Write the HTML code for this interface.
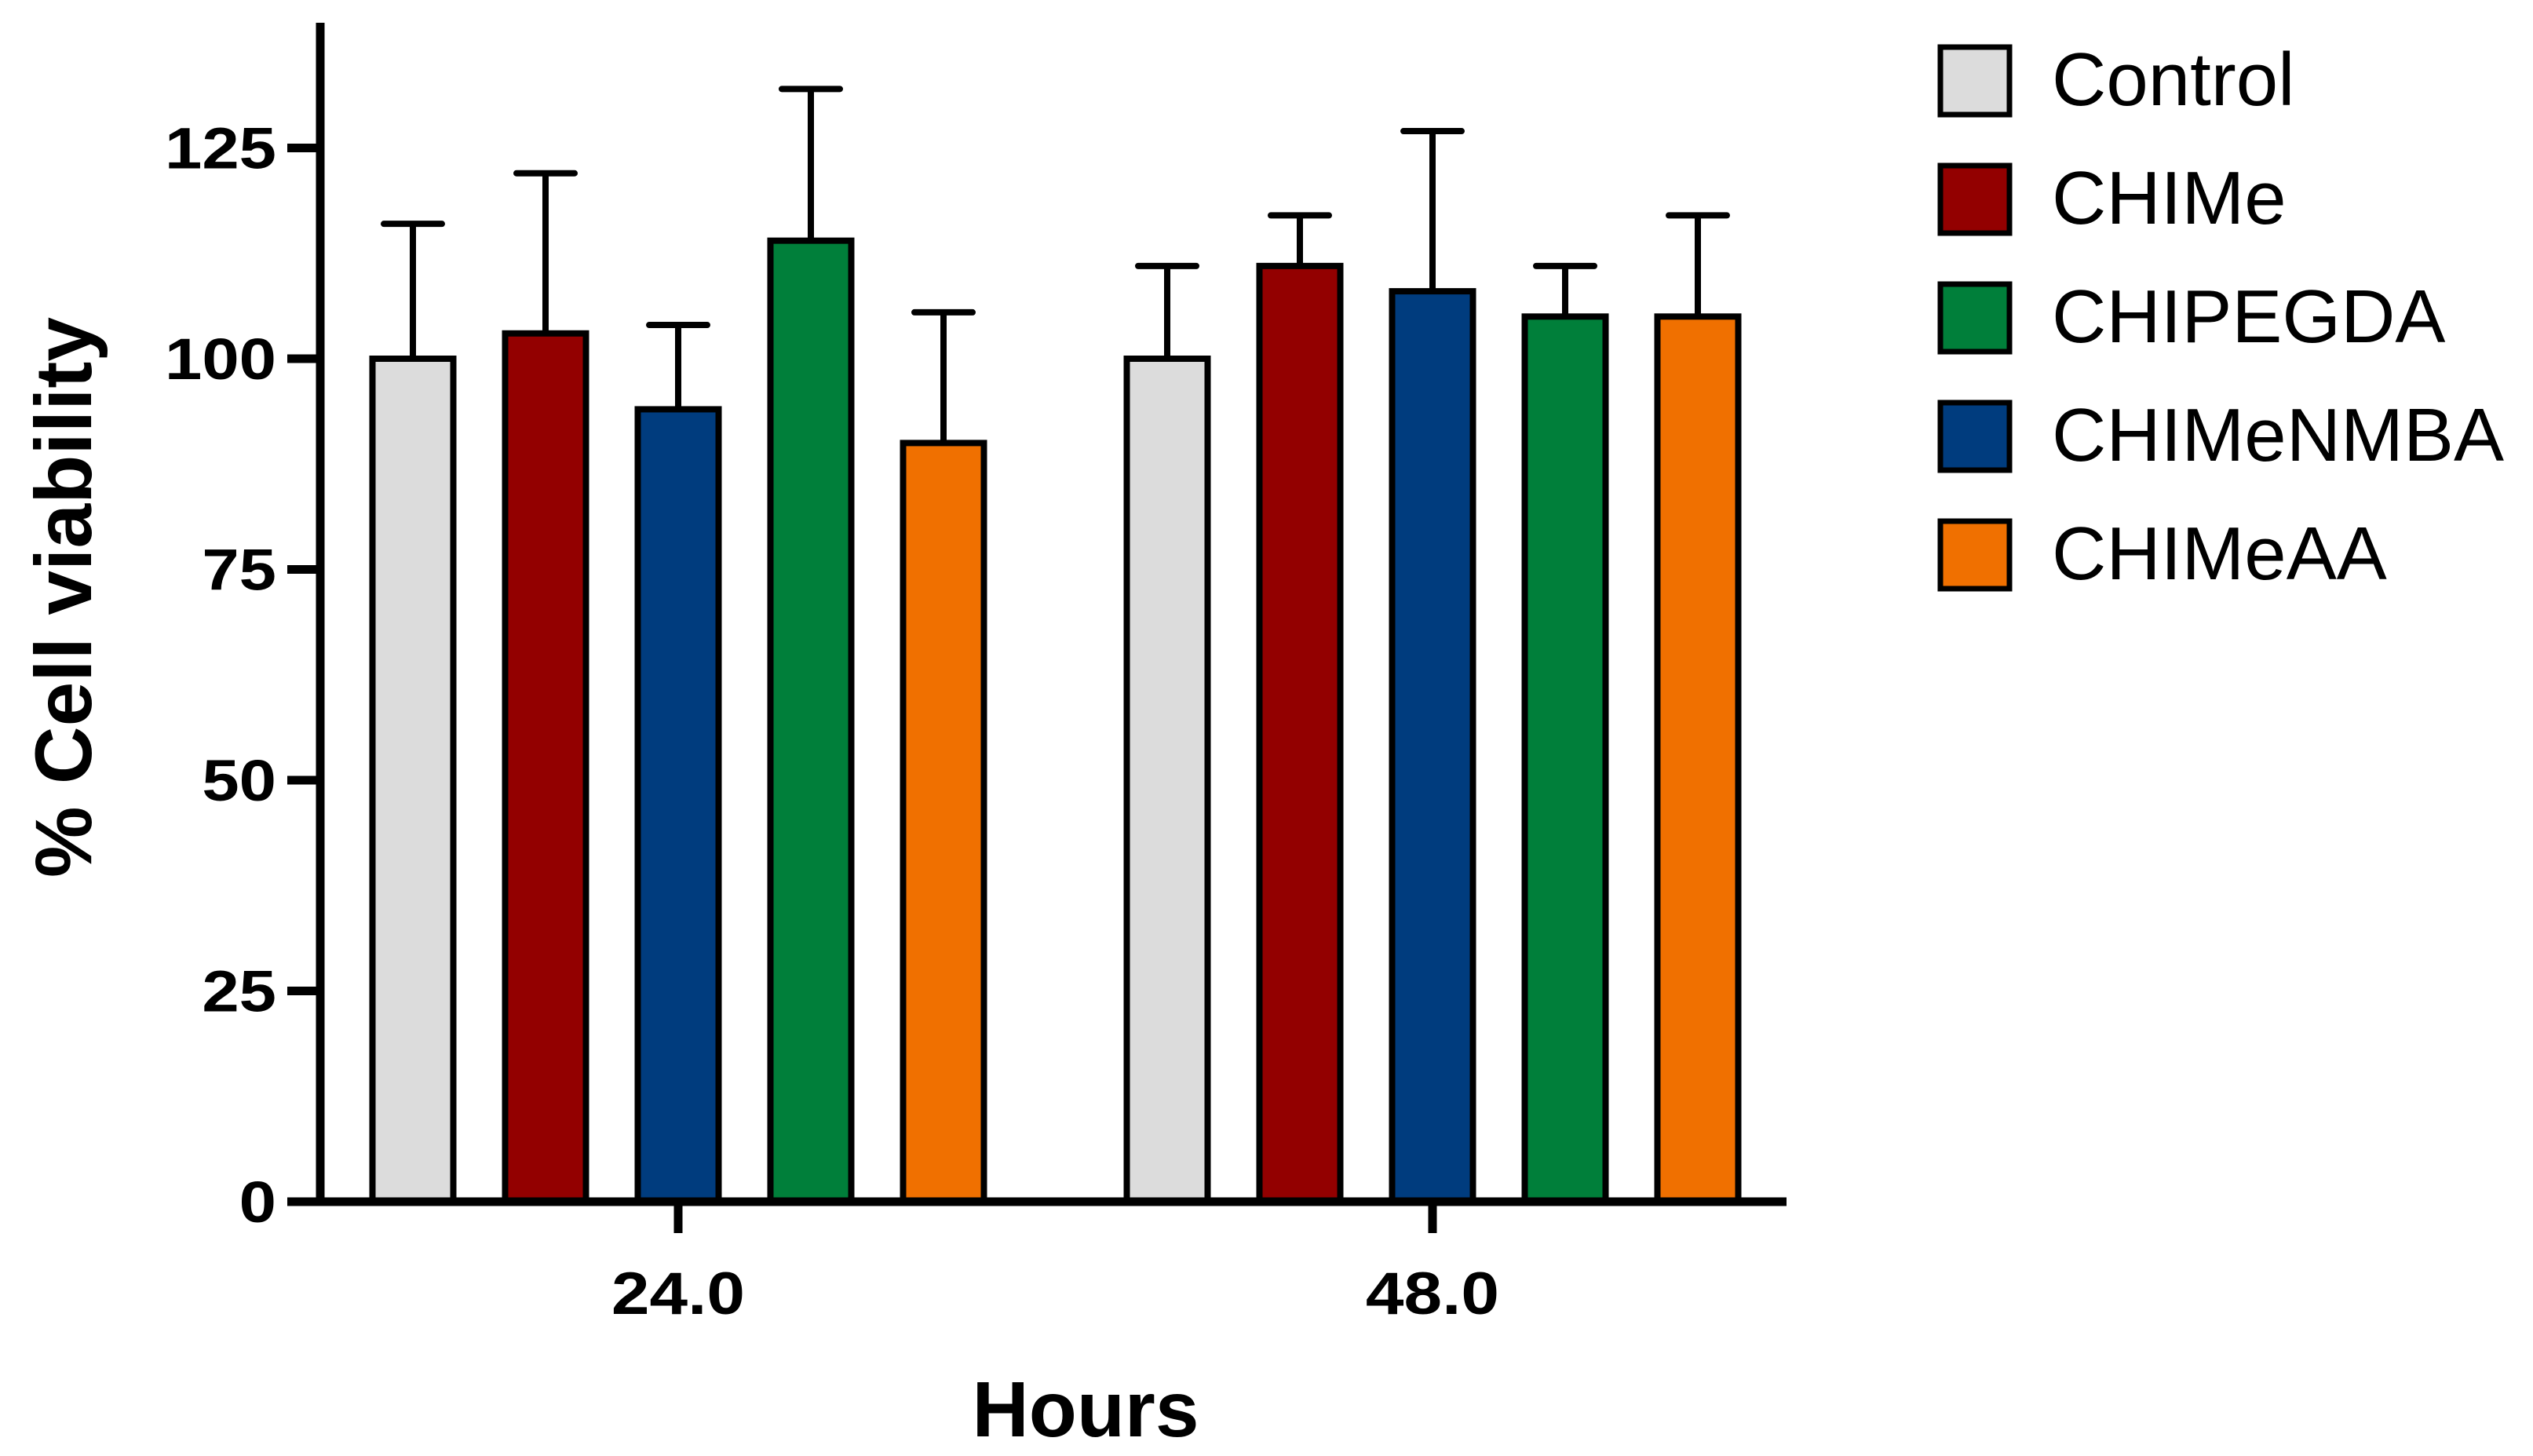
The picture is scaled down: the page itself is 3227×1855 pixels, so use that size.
<!DOCTYPE html>
<html><head><meta charset="utf-8"><style>
html,body{margin:0;padding:0;background:#fff;}
svg{display:block;}
text{font-family:"Liberation Sans",Arial,sans-serif;}
</style></head><body>
<svg id="chart" width="3227" height="1855" viewBox="0 0 3227 1855" xmlns="http://www.w3.org/2000/svg">
<g id="plot"></g>
<text x="0" y="0" transform="translate(116,761) rotate(-90)" text-anchor="middle" font-size="102" font-weight="bold">% Cell viability</text>
<text x="1383" y="1830" text-anchor="middle" font-size="100" font-weight="bold">Hours</text>
<g id="legend"></g>
</svg>
<script>
const categories = ["24.0", "48.0"];
const seriesNames = ["Control", "CHIMe", "CHIMeNMBA", "CHIPEGDA", "CHIMeAA"];
const seriesColors = ["#dcdcdc", "#930000", "#003c7e", "#007f3a", "#f07000"];
const values24 = [100, 103, 94, 114, 90];
const values48 = [100, 111, 108, 105, 105];
const errTop24 = [116, 122, 104, 132, 105.5];
const errTop48 = [111, 117, 127, 111, 117];
const yTicks = [0, 25, 50, 75, 100, 125];
const legendNames = ["Control", "CHIMe", "CHIPEGDA", "CHIMeNMBA", "CHIMeAA"];
const legendColors = ["#dcdcdc", "#930000", "#007f3a", "#003c7e", "#f07000"];

const NS = "http://www.w3.org/2000/svg";
const plot = document.getElementById('plot');
const y0 = 1531, pxPerUnit = 10.74;
function yScale(v){ return y0 - v * pxPerUnit; }
const groupCenters = [864, 1825];
const pitch = 169, barW = 103;
function xScale(gi, si){ return groupCenters[gi] + (si - 2) * pitch; }
function mk(tag, attrs){ const e = document.createElementNS(NS, tag); for (const k in attrs) e.setAttribute(k, attrs[k]); return e; }
function stretch(t, f){ const w = t.getComputedTextLength(); t.setAttribute('textLength', w * f); t.setAttribute('lengthAdjust', 'spacingAndGlyphs'); }

const allVals = [values24, values48];
const allErr = [errTop24, errTop48];
for (let g = 0; g < categories.length; g++) {
  for (let s = 0; s < seriesNames.length; s++) {
    const cx = xScale(g, s), v = allVals[g][s], et = allErr[g][s];
    const eb = mk('line', {x1: cx, x2: cx, y1: yScale(v), y2: yScale(et), stroke: '#000', 'stroke-width': 8});
    
    
    plot.appendChild(eb);
    const cap = mk('line', {x1: cx - 37, x2: cx + 37, y1: yScale(et), y2: yScale(et), stroke: '#000', 'stroke-width': 8, 'stroke-linecap': 'round'});
    
    
    plot.appendChild(cap);
    const r = mk('rect', {x: cx - barW/2, y: yScale(v), width: barW, height: y0 - yScale(v), fill: seriesColors[s], stroke: '#000', 'stroke-width': 8});
    
    
    plot.appendChild(r);
  }
}
const ya = mk('line', {x1: 408, x2: 408, y1: 29, y2: y0 + 5, stroke: '#000', 'stroke-width': 11});


plot.appendChild(ya);
const xa = mk('line', {x1: 366, x2: 2276, y1: y0, y2: y0, stroke: '#000', 'stroke-width': 11});


plot.appendChild(xa);
for (const t of yTicks) {
  const tl = mk('line', {x1: 366, x2: 408, y1: yScale(t), y2: yScale(t), stroke: '#000', 'stroke-width': 11});
  
  
  plot.appendChild(tl);
  const tx = mk('text', {x: 352, y: yScale(t) + 26, 'text-anchor': 'end', 'font-size': 74, 'font-weight': 'bold'});
  
  
  tx.textContent = t;
  plot.appendChild(tx);
  stretch(tx, 1.15);
}
for (let g = 0; g < categories.length; g++) {
  const tl = mk('line', {x1: groupCenters[g], x2: groupCenters[g], y1: y0, y2: y0 + 40, stroke: '#000', 'stroke-width': 11});
  
  
  plot.appendChild(tl);
  const tx = mk('text', {x: groupCenters[g], y: 1674, 'text-anchor': 'middle', 'font-size': 76, 'font-weight': 'bold'});
  
  
  tx.textContent = categories[g];
  plot.appendChild(tx);
  stretch(tx, 1.15);
}
const legend = document.getElementById('legend');
for (let i = 0; i < legendNames.length; i++) {
  const yy = 60 + i * 151;
  const b = mk('rect', {x: 2472, y: yy, width: 88, height: 86, fill: legendColors[i], stroke: '#000', 'stroke-width': 7});
  
  
  legend.appendChild(b);
  const t = mk('text', {x: 2614, y: yy + 74, 'font-size': 96});
  
  
  t.textContent = legendNames[i];
  legend.appendChild(t);
}
</script>
</body></html>
